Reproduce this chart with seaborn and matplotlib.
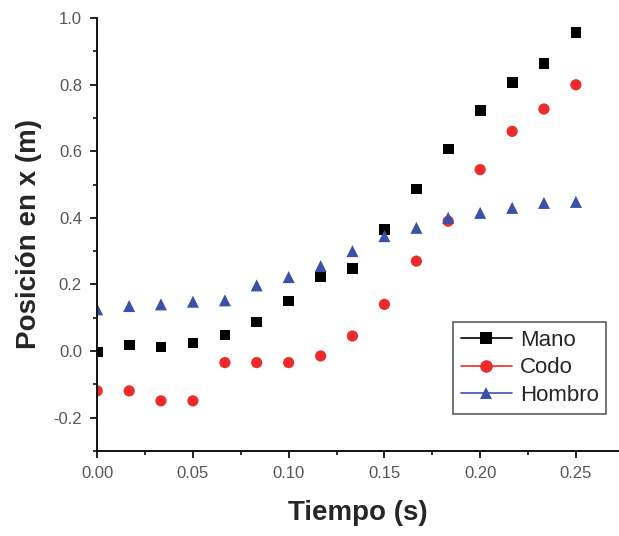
import numpy as np
import pandas as pd
import matplotlib
matplotlib.use("Agg")
import matplotlib.pyplot as plt
import seaborn as sns
from matplotlib.ticker import MultipleLocator, FormatStrFormatter
from matplotlib.lines import Line2D

tiempo = [0.0, 0.0167, 0.0333, 0.05, 0.0667, 0.0833, 0.1, 0.1167,
          0.1333, 0.15, 0.1667, 0.1833, 0.2, 0.2167, 0.2333, 0.25]
mano = [-0.003, 0.018, 0.012, 0.024, 0.048, 0.087, 0.15, 0.222,
        0.247, 0.364, 0.487, 0.607, 0.722, 0.806, 0.863, 0.956]
codo = [-0.12, -0.12, -0.15, -0.15, -0.035, -0.035, -0.035, -0.015,
        0.045, 0.14, 0.27, 0.39, 0.545, 0.66, 0.727, 0.80]
hombro = [0.125, 0.135, 0.14, 0.148, 0.152, 0.197, 0.222, 0.255,
          0.30, 0.345, 0.37, 0.40, 0.415, 0.43, 0.445, 0.448]
series_names = ["Mano", "Codo", "Hombro"]
colors = ["#000000", "#ee2a2a", "#3d50a8"]
markers = ["s", "o", "^"]

df = pd.DataFrame({"Tiempo": tiempo * 3,
                   "Pos": mano + codo + hombro,
                   "Serie": sum([[n] * len(tiempo) for n in series_names], [])})

sns.set_style("white")
plt.rcParams['font.family'] = ['Liberation Sans', 'DejaVu Sans']

fig = plt.figure(figsize=(6.19, 5.36), dpi=100)
ax = fig.add_axes([0.157, 0.159, 0.843, 0.807])

for name, c, m in zip(series_names, colors, markers):
    sub = df[df["Serie"] == name]
    sns.scatterplot(data=sub, x="Tiempo", y="Pos", ax=ax, color=c, marker=m,
                    s={"s": 60, "o": 65, "^": 75}[m], edgecolor="none",
                    linewidth=0, legend=False)

ax.set_xlim(0, 0.2725)
ax.set_ylim(-0.3, 1.0)
ax.xaxis.set_major_locator(MultipleLocator(0.05))
ax.xaxis.set_minor_locator(MultipleLocator(0.025))
ax.yaxis.set_major_locator(MultipleLocator(0.2))
ax.yaxis.set_minor_locator(MultipleLocator(0.1))
ax.xaxis.set_major_formatter(FormatStrFormatter('%.2f'))
ax.yaxis.set_major_formatter(FormatStrFormatter('%.1f'))
ax.tick_params(axis="both", which="major", direction="out", length=5, width=1.3,
               colors="#111111", labelcolor="#555555", labelsize=12, pad=6,
               bottom=True, left=True)
ax.tick_params(axis="both", which="minor", direction="out", length=3, width=1.2,
               colors="#111111", bottom=True, left=True)
for s in ["top", "right"]:
    ax.spines[s].set_visible(False)
for s in ["left", "bottom"]:
    ax.spines[s].set_color("#111111")
    ax.spines[s].set_linewidth(1.4)

ax.set_xlabel("Tiempo (s)", fontsize=20, fontweight="bold", labelpad=14)
ax.set_ylabel("Posición en x (m)", fontsize=20, fontweight="bold", labelpad=8)

handles = [Line2D([0], [0], color=c, marker=m, markersize=9, linewidth=1.2,
                  markeredgewidth=0) for c, m in zip(colors, markers)]
leg = ax.legend(handles, series_names, loc="upper left",
                bbox_to_anchor=(0.682, 0.298), frameon=True, fontsize=16,
                handlelength=2.3, handletextpad=0.35, labelspacing=0.3,
                borderpad=0.35, fancybox=False, borderaxespad=0)
leg.get_frame().set_edgecolor("#333333")
leg.get_frame().set_linewidth(1.2)

fig.savefig("out.png", dpi=100)
